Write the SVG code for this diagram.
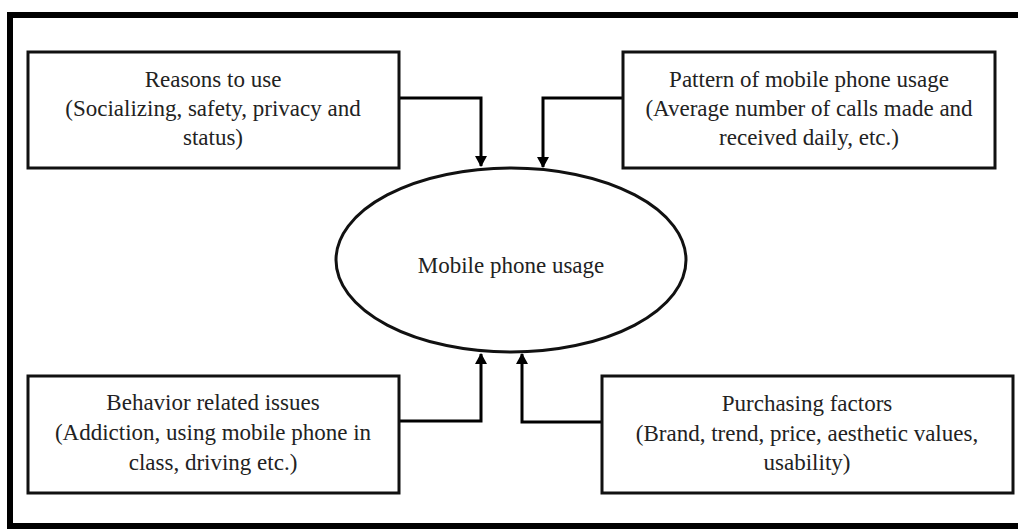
<svg xmlns="http://www.w3.org/2000/svg" width="1018" height="531" viewBox="0 0 1018 531">
<defs>
<marker id="ah" markerWidth="12" markerHeight="12" refX="10" refY="6" orient="auto" markerUnits="userSpaceOnUse">
<path d="M0,0 L11,6 L0,12 Z" fill="#000"/>
</marker>
<style>
.box{fill:#fff;stroke:#111;stroke-width:3}
.t{font-family:"Liberation Serif","Times New Roman",serif;font-size:23px;fill:#222;text-anchor:middle}
.c{fill:none;stroke:#000;stroke-width:3;marker-end:url(#ah)}
</style>
</defs>
<rect x="0" y="0" width="1018" height="531" fill="#fff"/>
<rect id="frame" x="10" y="15" width="1020" height="511" fill="none" stroke="#000" stroke-width="6"/>
<g id="connectors">
<path class="c" d="M399,98 H481 V166"/>
<path class="c" d="M623,98 H543 V167"/>
<path class="c" d="M399,421 H481 V354"/>
<path class="c" d="M602,422 H522 V354"/>
</g>
<g id="node-center">
<ellipse cx="511" cy="260" rx="175" ry="92" fill="#fff" stroke="#111" stroke-width="3"/>
<text class="t" x="511" y="273">Mobile phone usage</text>
</g>
<g id="node-reasons">
<rect class="box" x="28" y="52" width="371" height="116"/>
<text class="t" x="213" y="87">Reasons to use</text>
<text class="t" x="213" y="116">(Socializing, safety, privacy and</text>
<text class="t" x="213" y="145">status)</text>
</g>
<g id="node-pattern">
<rect class="box" x="623" y="52" width="372" height="116"/>
<text class="t" x="809" y="87">Pattern of mobile phone usage</text>
<text class="t" x="809" y="116">(Average number of calls made and</text>
<text class="t" x="809" y="145">received daily, etc.)</text>
</g>
<g id="node-behavior">
<rect class="box" x="28" y="376" width="371" height="117"/>
<text class="t" x="213" y="410">Behavior related issues</text>
<text class="t" x="213" y="440">(Addiction, using mobile phone in</text>
<text class="t" x="213" y="470">class, driving etc.)</text>
</g>
<g id="node-purchasing">
<rect class="box" x="602" y="376" width="411" height="117"/>
<text class="t" x="807" y="411">Purchasing factors</text>
<text class="t" x="807" y="441">(Brand, trend, price, aesthetic values,</text>
<text class="t" x="807" y="470">usability)</text>
</g>
</svg>
